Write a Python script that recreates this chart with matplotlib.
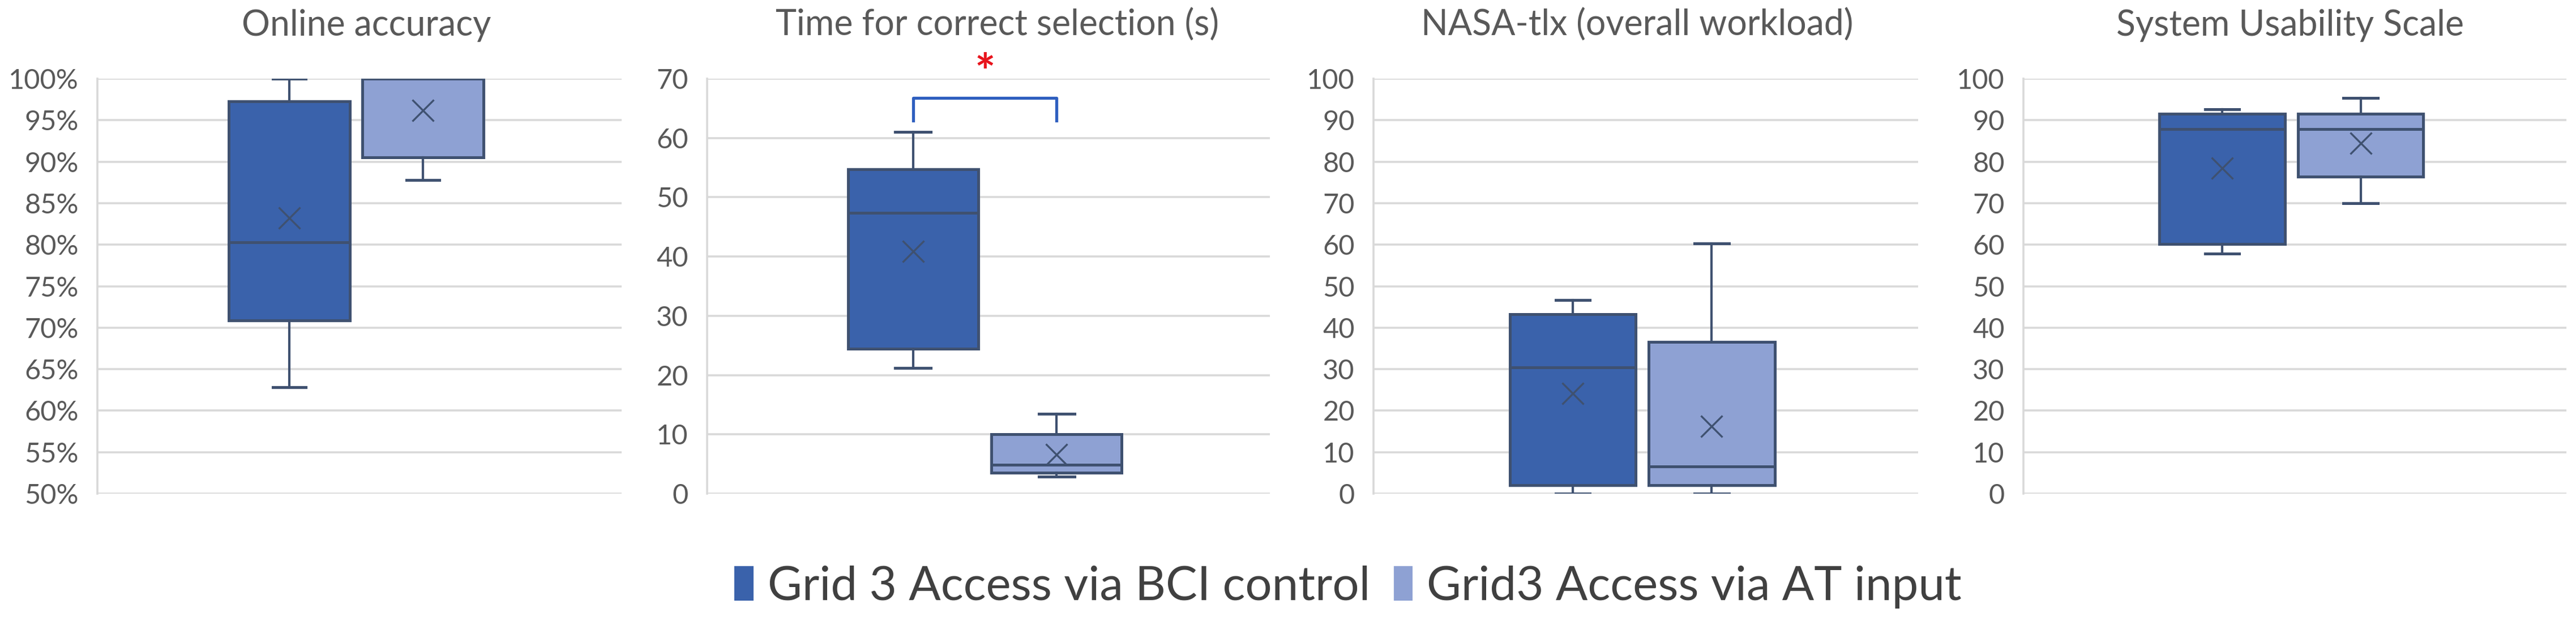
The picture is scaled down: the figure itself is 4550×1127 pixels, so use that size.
import matplotlib
matplotlib.use("Agg")
import matplotlib.pyplot as plt
from matplotlib.patches import Patch
from matplotlib.ticker import FuncFormatter

plt.rcParams['font.family'] = ['Lato', 'DejaVu Sans']

# ---------------- data ----------------
titles = ["Online accuracy", "Time for correct selection (s)",
          "NASA-tlx (overall workload)", "System Usability Scale"]
series = ["Grid 3 Access via BCI control", "Grid3 Access via AT input"]

# per panel: [BCI, AT]
whis_lo = [[62.8, 87.8], [21.2, 2.9], [0.0, 0.0], [57.9, 70.0]]
q1      = [[70.9, 90.5], [24.4, 3.5], [2.0, 2.0], [60.2, 76.4]]
median  = [[80.3, 100.0], [47.4, 4.9], [30.4, 6.6], [87.9, 87.9]]
q3      = [[97.3, 100.0], [54.7, 10.0], [43.3, 36.5], [91.5, 91.5]]
whis_hi = [[100.0, 100.0], [61.0, 13.5], [46.6, 60.3], [92.6, 95.3]]
means   = [[83.2, 96.2], [40.9, 6.6], [24.1, 16.3], [78.4, 84.5]]

y_limits = [(50, 100), (0, 70), (0, 100), (0, 100)]
y_steps = [5, 10, 10, 10]

# significance bracket (panel 2)
sig_panel = 1
sig_bracket_top = 66.8
sig_bracket_leg = 62.9
sig_star_y = 70.6

# ---------------- style ----------------
fill_colors = ["#3A62AB", "#8EA1D3"]
edge_color = "#3F5170"
grid_color = "#D9D9D9"
text_color = "#595959"

fig = plt.figure(figsize=(45.5, 11.27), dpi=100)

# axes boxes in pixels: (left, right)
ax_px = [(172, 1098), (1249, 2243), (2426, 3388), (3574, 4533)]
title_cx = [647, 1762, 2892, 4045]
W, H = 4550, 1127
top_px, bot_px = 139, 872

positions = [0.366, 0.621]
box_w = 0.231

for i in range(4):
    l, r = ax_px[i]
    ax = fig.add_axes([l / W, 1 - bot_px / H, (r - l) / W, (bot_px - top_px) / H])
    stats = []
    for j in range(2):
        stats.append(dict(med=median[i][j], q1=q1[i][j], q3=q3[i][j],
                          whislo=whis_lo[i][j], whishi=whis_hi[i][j],
                          mean=means[i][j], fliers=[], label=series[j]))
    bp = ax.bxp(stats, positions=positions, widths=box_w, capwidths=0.063,
                showmeans=True, patch_artist=True, showfliers=False,
                boxprops=dict(edgecolor=edge_color, linewidth=3.6),
                medianprops=dict(color=edge_color, linewidth=3.6),
                whiskerprops=dict(color=edge_color, linewidth=3.0),
                capprops=dict(color=edge_color, linewidth=3.6),
                meanprops=dict(marker='x', markersize=28, markeredgecolor=edge_color,
                               markeredgewidth=2.4, markerfacecolor='none'),
                zorder=3)
    for patch, c in zip(bp['boxes'], fill_colors):
        patch.set_facecolor(c)
    lo, hi = y_limits[i]
    ax.set_ylim(lo, hi)
    ax.set_xlim(0, 1)
    ax.set_yticks(list(range(lo, hi + 1, y_steps[i])))
    if i == 0:
        ax.yaxis.set_major_formatter(FuncFormatter(lambda v, p: f"{v:.0f}%"))
    ax.set_xticks([])
    ax.grid(axis='y', color=grid_color, linewidth=2.6, zorder=0)
    ax.set_axisbelow(True)
    for s in ['top', 'right', 'bottom']:
        ax.spines[s].set_visible(False)
    ax.spines['left'].set_color(grid_color)
    ax.spines['left'].set_linewidth(2.6)
    ax.tick_params(axis='y', length=0, pad=24, labelsize=35, labelcolor=text_color)
    fig.text(title_cx[i] / W, 1 - 63 / H, titles[i], ha='center', va='baseline',
             fontsize=45, color=text_color)

    if i == sig_panel:
        ax.plot([positions[0], positions[0], positions[1], positions[1]],
                [sig_bracket_leg, sig_bracket_top, sig_bracket_top, sig_bracket_leg],
                color="#2F5FBF", linewidth=3.8, clip_on=False, zorder=4)
        ax.text(sum(positions) / 2, sig_star_y, "*", color="#E8141C", fontsize=62,
                fontweight='bold', ha='center', va='center', clip_on=False)

handles = [Patch(facecolor=c, edgecolor='none') for c in fill_colors]
fig.legend(handles, series, loc='center', bbox_to_anchor=(2381 / W, 1 - 1037 / H),
           ncol=2, frameon=False, fontsize=60, labelcolor="#404040",
           handlelength=0.4, handleheight=0.75, handletextpad=0.3, columnspacing=0.5)

fig.savefig("out.png", dpi=100, facecolor='white')
